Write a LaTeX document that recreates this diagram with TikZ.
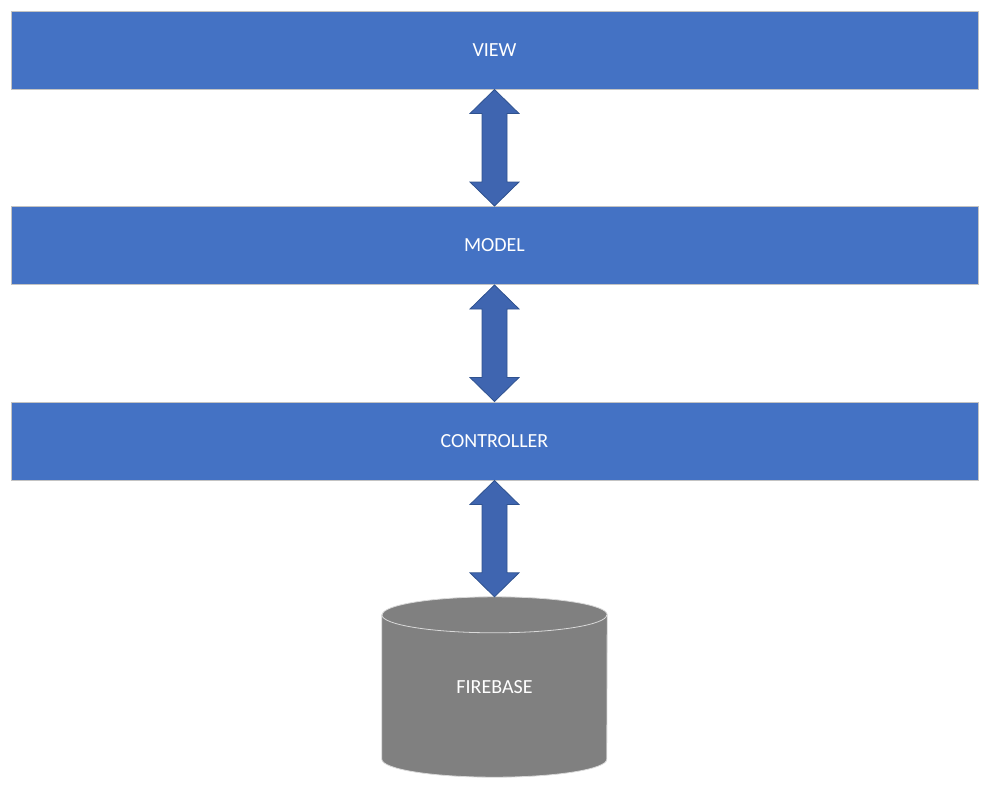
\documentclass[tikz,border=0pt]{standalone}
\usepackage{fontspec}
\setmainfont{Carlito}
\usetikzlibrary{calc,backgrounds}
\definecolor{barblue}{HTML}{4472C4}
\definecolor{barline}{HTML}{C3C3C3}
\definecolor{arrfill}{HTML}{3F65B0}
\definecolor{arrline}{HTML}{2F528F}
\definecolor{dbgray}{HTML}{808080}
\definecolor{dbline}{HTML}{D9D9D9}
\newcommand\dblarr[2]{%
  \path[arrowstyle] let \p1=(#1), \p2=(#2) in
    (\x1,\y1) -- (\x1+24.5pt,\y1-24pt) -- (\x1+12.5pt,\y1-24pt)
    -- (\x1+12.5pt,\y2+24pt) -- (\x1+24.5pt,\y2+24pt) -- (\x1,\y2)
    -- (\x1-24.5pt,\y2+24pt) -- (\x1-12.5pt,\y2+24pt)
    -- (\x1-12.5pt,\y1-24pt) -- (\x1-24.5pt,\y1-24pt) -- cycle;}
\begin{document}
\begin{tikzpicture}[x=1pt,y=-1pt,
  bar/.style={draw=barline,line width=1pt,fill=barblue,minimum width=967pt,minimum height=78pt,inner sep=0pt,text=white,font=\fontsize{20pt}{24pt}\selectfont},
  arrowstyle/.style={fill=arrfill,draw=arrline,line width=0.8pt,line join=miter},
  dbnode/.style={minimum width=225pt,minimum height=180pt,inner sep=0pt,text=white,font=\fontsize{20pt}{24pt}\selectfont}]
\useasboundingbox (0,0) rectangle (989,788);
\node[bar] (view) at (494.5,50) {VIEW};
\node[bar] (model) at (494.5,245.5) {MODEL};
\node[bar] (controller) at (494.5,441) {CONTROLLER};
\node[dbnode] (firebase) at (494.5,687) {FIREBASE};
\begin{scope}[on background layer]
  \path[fill=dbgray,draw=dbline,line width=0.8pt]
    ($(firebase.north west)+(0,18)$) -- ($(firebase.south west)+(0,-18)$)
    arc[start angle=180,end angle=360,x radius=112.5pt,y radius=18pt]
    -- ($(firebase.north east)+(0,18)$)
    arc[start angle=0,end angle=180,x radius=112.5pt,y radius=18pt] -- cycle;
  \draw[dbline,line width=0.8pt] ($(firebase.north west)+(0,18)$)
    arc[start angle=180,end angle=360,x radius=112.5pt,y radius=18pt];
\end{scope}
\dblarr{view.south}{model.north}
\dblarr{model.south}{controller.north}
\dblarr{controller.south}{firebase.north}
\end{tikzpicture}
\end{document}
